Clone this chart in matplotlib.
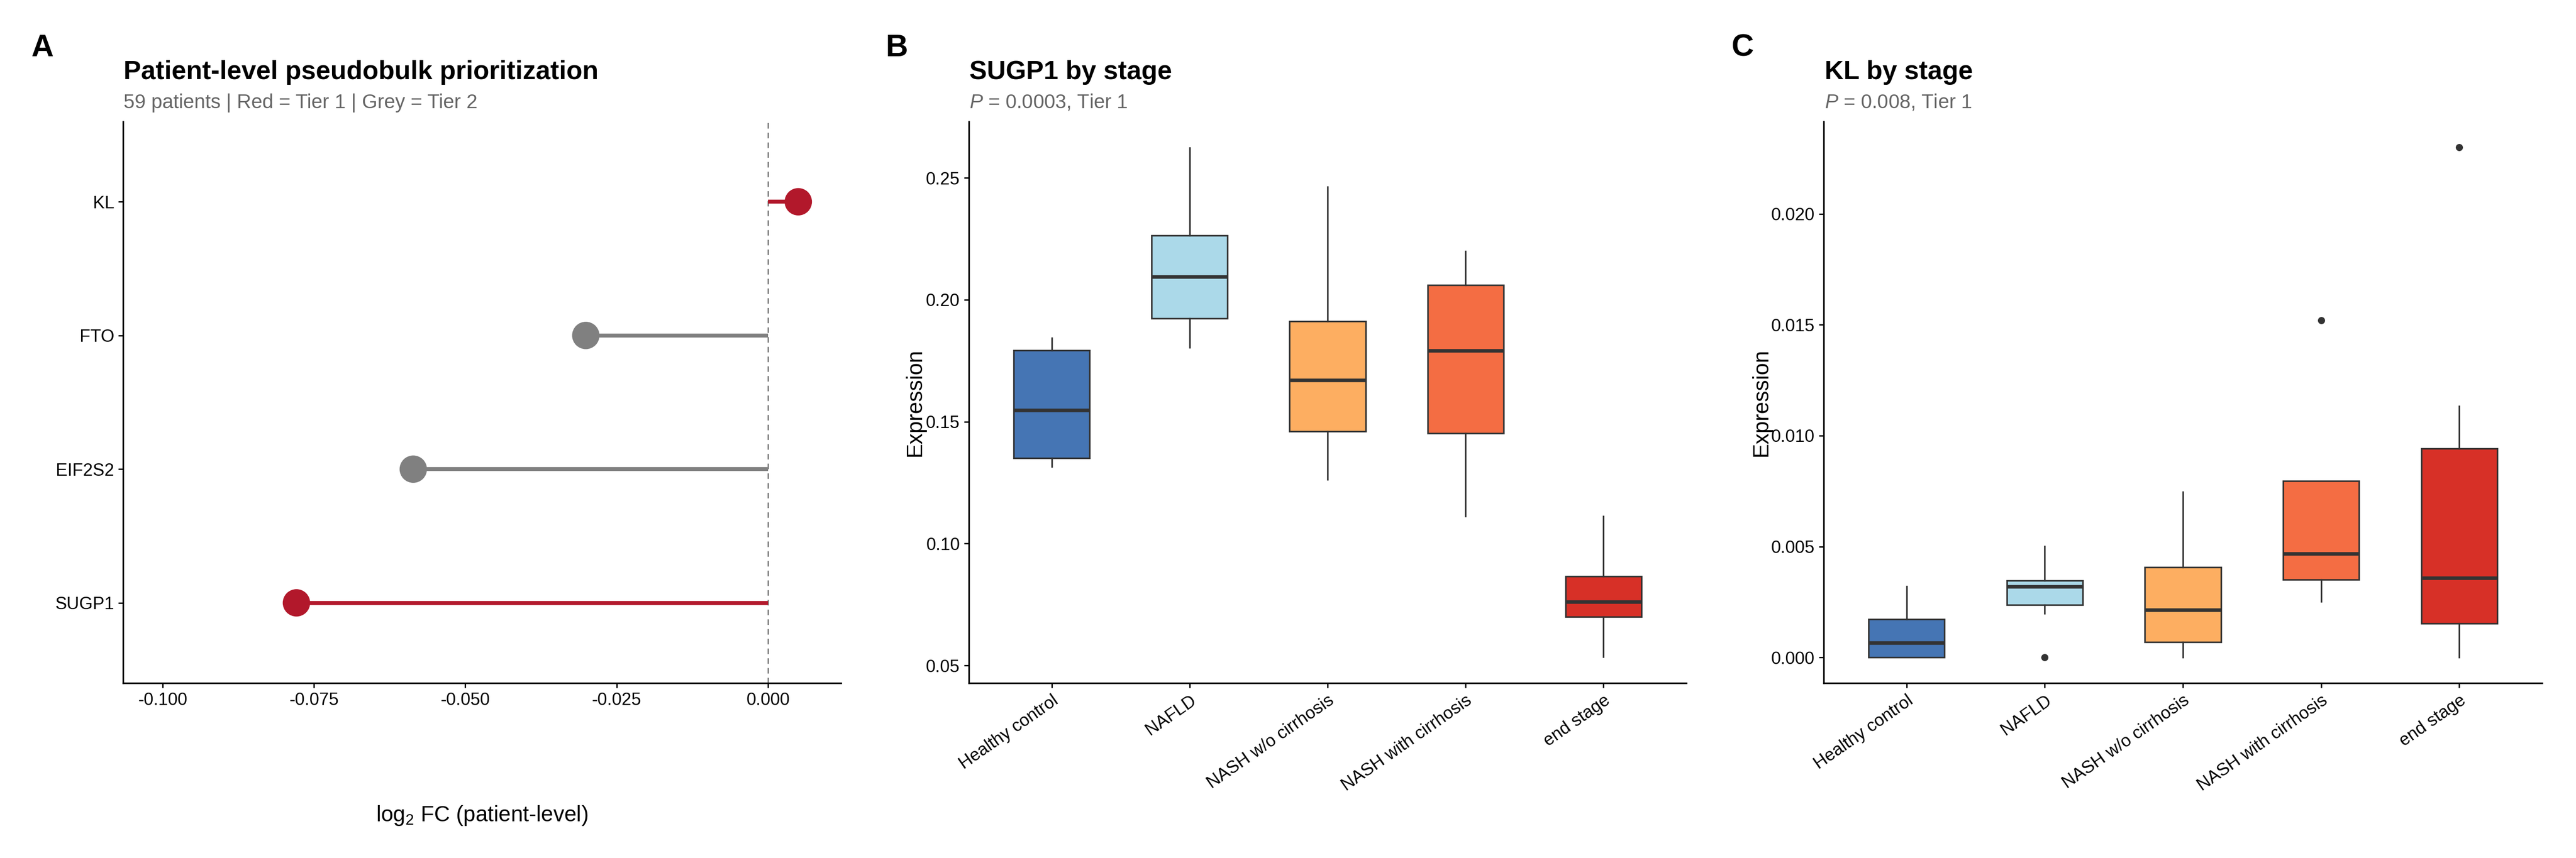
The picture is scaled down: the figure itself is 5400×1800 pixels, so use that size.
import numpy as np
import matplotlib.pyplot as plt
from matplotlib.transforms import ScaledTranslation

plt.rcParams['font.family'] = ['Liberation Sans', 'DejaVu Sans']
plt.rcParams['mathtext.fontset'] = 'custom'
plt.rcParams['mathtext.rm'] = 'Liberation Sans'
plt.rcParams['mathtext.it'] = 'Liberation Sans:italic'

# Panel A data: patient-level log2 fold changes
genes = ["SUGP1", "EIF2S2", "FTO", "KL"]
log2fc = [-0.0779, -0.0586, -0.0301, 0.0050]
tier = [1, 2, 2, 1]
tier_colors = {1: "#B2182B", 2: "#808080"}

# Panels B/C: stage boxplot summaries
stages = ["Healthy control", "NAFLD", "NASH w/o cirrhosis", "NASH with cirrhosis", "end stage"]
stage_colors = ["#4575B4", "#ABD9E9", "#FDAE61", "#F46D43", "#D73027"]

sugp1_low = [0.1315, 0.1804, 0.1263, 0.1113, 0.0536]
sugp1_q1 = [0.1351, 0.1923, 0.1461, 0.1452, 0.0700]
sugp1_med = [0.1546, 0.2094, 0.1669, 0.1791, 0.0760]
sugp1_q3 = [0.1793, 0.2264, 0.1912, 0.2060, 0.0866]
sugp1_high = [0.1844, 0.2623, 0.2464, 0.2199, 0.1113]
sugp1_out = [[], [], [], [], []]

kl_low = [0.0000, 0.00198, 0.0000, 0.00252, 0.0000]
kl_q1 = [0.0000, 0.00237, 0.00069, 0.00351, 0.00153]
kl_med = [0.00064, 0.00318, 0.00212, 0.00467, 0.00356]
kl_q3 = [0.00173, 0.00346, 0.00407, 0.00795, 0.00943]
kl_high = [0.00321, 0.00501, 0.00746, 0.00795, 0.01133]
kl_out = [[], [0.0], [], [0.0152], [0.0230]]

W, H = 5400, 1800


def px(l, t, r, b):
    return [l / W, 1 - b / H, (r - l) / W, (b - t) / H]


def fx(x):
    return x / W


def fy(y):
    return 1 - y / H


def style_axis(ax):
    for s in ["top", "right"]:
        ax.spines[s].set_visible(False)
    for s in ["left", "bottom"]:
        ax.spines[s].set_linewidth(0.8)
    ax.tick_params(length=2.5, width=0.7, pad=2, labelsize=8.8, colors="black")


fig = plt.figure(figsize=(18, 6), dpi=300)

# ---- Panel A: lollipop
axA = fig.add_axes(px(258, 255, 1763, 1433))
ypos = np.arange(len(genes))
cols = [tier_colors[t] for t in tier]
axA.axvline(0, color="#7F7F7F", lw=0.7, ls=(0, (4, 3)), zorder=1)
axA.hlines(ypos, 0, log2fc, colors=cols, lw=2.0, zorder=2)
axA.scatter(log2fc, ypos, s=190, c=cols, zorder=3, linewidths=0)
axA.set_yticks(ypos, genes)
axA.set_ylim(-0.6, 3.6)
xt = [-0.100, -0.075, -0.050, -0.025, 0.000]
axA.set_xticks(xt, ["%.3f" % v for v in xt])
axA.set_xlim(-0.10654, 0.01206)
style_axis(axA)

fig.text(fx(1010), fy(1711), r"log$_2$ FC (patient-level)", ha="center", va="center", fontsize=11)


# ---- Panels B/C: boxplots
def draw_box(ax, low, q1, med, q3, high, out, yt, fmt, ylim):
    stats = []
    for i in range(len(stages)):
        stats.append(dict(whislo=low[i], q1=q1[i], med=med[i], q3=q3[i], whishi=high[i], fliers=out[i]))
    bp = ax.bxp(stats, positions=range(1, 6), widths=0.55, patch_artist=True, showcaps=False,
                boxprops=dict(edgecolor="#333333", linewidth=0.8),
                medianprops=dict(color="#333333", linewidth=1.8),
                whiskerprops=dict(color="#333333", linewidth=0.8),
                flierprops=dict(marker="o", markerfacecolor="#333333", markeredgecolor="none", markersize=3.6))
    for patch, c in zip(bp["boxes"], stage_colors):
        patch.set_facecolor(c)
    ax.set_xlim(0.4, 5.6)
    ax.set_ylim(*ylim)
    ax.set_yticks(yt, [fmt % v for v in yt])
    ax.set_xticks(range(1, 6), stages, rotation=35, ha="right", va="top", rotation_mode="anchor")
    # nudge rotated labels like ggplot's hjust/vjust = 1
    shift = ScaledTranslation(10 / 300, -10 / 300, fig.dpi_scale_trans)
    for lab in ax.get_xticklabels():
        lab.set_transform(lab.get_transform() + shift)
    style_axis(ax)


axB = fig.add_axes(px(2031, 255, 3535, 1433))
draw_box(axB, sugp1_low, sugp1_q1, sugp1_med, sugp1_q3, sugp1_high, sugp1_out,
         [0.05, 0.10, 0.15, 0.20, 0.25], "%.2f", (0.04277, 0.2731))

axC = fig.add_axes(px(3823, 255, 5329, 1433))
draw_box(axC, kl_low, kl_q1, kl_med, kl_q3, kl_high, kl_out,
         [0.000, 0.005, 0.010, 0.015, 0.020], "%.3f", (-0.00116, 0.02417))

fig.text(fx(1918), fy(845), "Expression", rotation=90, ha="center", va="center", fontsize=11)
fig.text(fx(3692), fy(845), "Expression", rotation=90, ha="center", va="center", fontsize=11)

# ---- tags, titles, subtitles
tags = [("A", 65, 259, "Patient-level pseudobulk prioritization", "59 patients | Red = Tier 1 | Grey = Tier 2"),
        ("B", 1857, 2032, "SUGP1 by stage", r"$\it{P}$ = 0.0003, Tier 1"),
        ("C", 3629, 3825, "KL by stage", r"$\it{P}$ = 0.008, Tier 1")]
for tag, tx, lx, title, sub in tags:
    fig.text(fx(tx), fy(118), tag, fontsize=15.5, fontweight="bold", ha="left", va="baseline")
    fig.text(fx(lx), fy(166), title, fontsize=13.2, fontweight="bold", ha="left", va="baseline")
    fig.text(fx(lx), fy(227), sub, fontsize=10, color="#666666", ha="left", va="baseline")

fig.savefig("out.png", dpi=300, facecolor="white")
